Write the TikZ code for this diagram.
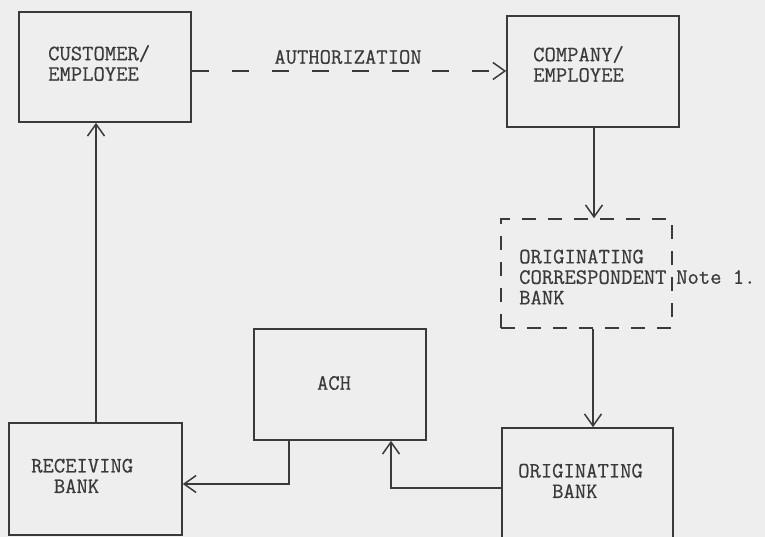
\documentclass[tikz,border=0pt]{standalone}
\usepackage{fontspec}
\setmonofont[FakeBold=0.5]{Latin Modern Mono}
\usetikzlibrary{arrows.meta}
\definecolor{ink}{HTML}{3A3A3A}
\definecolor{paper}{HTML}{EEEEEE}
\begin{document}
\begin{tikzpicture}[x=1pt,y=-1pt,
  box/.style={draw=ink, line width=1.6pt, minimum width=#1, inner sep=0pt},
  txt/.style={text=ink, font=\fontsize{22}{20.5}\selectfont\ttfamily, inner sep=0pt, align=left},
  conn/.style={draw=ink, line width=1.5pt, -{Straight Barb[length=12pt,width=17pt,line width=1.5pt]}},
  dashconn/.style={conn, dash pattern=on 17pt off 23pt},
  dashbox/.style={draw=ink, line width=1.6pt, dash pattern=on 14pt off 12pt, inner sep=0pt}]
\fill[paper] (0,0) rectangle (765,537);
\useasboundingbox (0,0) rectangle (765,537);
% boxes
\node[box=172pt, minimum height=110pt] (cust) at (105,67) {};
\node[box=172pt, minimum height=111pt] (comp) at (593,71.5) {};
\node[dashbox, minimum width=171pt, minimum height=109pt] (ocb) at (586.5,273.5) {};
\node[box=172pt, minimum height=111pt] (ach) at (340,384.5) {};
\node[box=173pt, minimum height=112pt] (recv) at (95.5,479) {};
\node[box=171pt, minimum height=112pt] (orig) at (587.5,484) {};
% texts
\node[txt, anchor=west] (custt) at (48,63) {CUSTOMER/\\EMPLOYEE};
\node[txt, anchor=west] (compt) at (533,64) {COMPANY/\\EMPLOYEE};
\node[txt] (auth) at (348,57) {AUTHORIZATION};
\node[txt, anchor=west] (ocbt) at (519,277) {ORIGINATING\\CORRESPONDENT\\BANK};
\node[txt, anchor=west] (note) at (676,277) {Note 1.};
\node[txt] (acht) at (334,383) {ACH};
\node[txt, anchor=west] (recvt) at (31,476) {RECEIVING\\\phantom{RE}BANK};
\node[txt, anchor=west] (origt) at (518,481) {ORIGINATING\\\phantom{ORI}BANK};
% connectors
\draw[dashconn] (cust.east |- 0,71) -- (comp.west |- 0,71);
\draw[conn] (comp.south -| 594,0) -- (ocb.north -| 594,0);
\draw[conn] (ocb.south -| 593,0) -- (orig.north -| 593,0);
\draw[conn] (orig.west |- 0,488) -| (ach.south -| 391,0);
\draw[conn] (ach.south -| 289,0) |- (recv.east |- 0,484);
\draw[conn] (recv.north -| 96,0) -- (cust.south -| 96,0);
\end{tikzpicture}
\end{document}
